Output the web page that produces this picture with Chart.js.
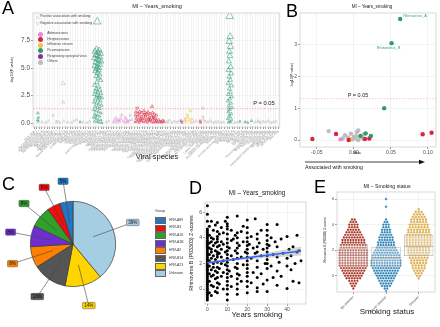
<!DOCTYPE html>
<html>
<head>
<meta charset="utf-8">
<script src="https://cdn.jsdelivr.net/npm/chart.js@4.4.1/dist/chart.umd.min.js"></script>
<style>
  body { margin: 0; background: #fff; font-family: "Liberation Sans", Arial, sans-serif; }
  #page { position: relative; width: 440px; height: 327px; overflow: hidden; background: #fff; }
  canvas { position: absolute; }
  .t { position: absolute; white-space: nowrap; line-height: 1; color: #1a1a1a; transform: translate(-50%, -50%); }
  .l { position: absolute; white-space: nowrap; line-height: 1; color: #1a1a1a; transform: translateY(-50%); }
  .v { position: absolute; white-space: nowrap; line-height: 1; color: #1a1a1a; transform: translate(-50%, -50%) rotate(-90deg); }
  .big { position: absolute; font-size: 18px; line-height: 1; color: #000; }
</style>
</head>
<body>
<div id="page">
  <canvas id="chartA" width="285" height="170" style="left:0;top:0"></canvas>
  <canvas id="chartB" width="155" height="165" style="left:285px;top:0"></canvas>
  <canvas id="chartC" width="150" height="157" style="left:0;top:170px"></canvas>
  <canvas id="chartD" width="125" height="137" style="left:185px;top:190px"></canvas>
  <canvas id="chartE" width="122" height="142" style="left:318px;top:185px"></canvas>

  <div class="big" style="left:2px;top:-1px">A</div>
  <div class="big" style="left:286px;top:2px">B</div>
  <div class="big" style="left:2px;top:175px">C</div>
  <div class="big" style="left:189px;top:179px">D</div>
  <div class="big" style="left:314px;top:178px">E</div>

  <!-- titres et axes -->
  <div class="t" style="left:157px;top:7px;font-size:5.5px">MI – Years_smoking</div>
  <div class="v" style="left:13px;top:70px;font-size:3.8px">-log10(P-value)</div>
  <div class="t" style="left:157px;top:157px;font-size:7.5px">Viral species</div>
  <div class="t" style="left:264px;top:104px;font-size:5.8px">P = 0.05</div>

  <div class="t" style="left:372px;top:7px;font-size:4.5px">MI – Years_smoking</div>
  <div class="v" style="left:293px;top:75px;font-size:3.5px">-log10(P-value)</div>
  <div class="t" style="left:358px;top:96px;font-size:5.5px">P = 0.05</div>
  <div class="t" style="left:357px;top:154px;font-size:3.5px">Beta</div>
  <svg style="position:absolute;left:300px;top:158px" width="130" height="8">
    <line x1="5" y1="4" x2="121" y2="4" stroke="#111" stroke-width="0.8"/>
    <polygon points="125,4 119,1.8 119,6.2" fill="#111"/>
  </svg>
  <div class="l" style="left:305px;top:168px;font-size:5.3px">Associated with smoking</div>

  <div class="t" style="left:257px;top:193px;font-size:6.3px">MI – Years_smoking</div>
  <div class="v" style="left:192px;top:253px;font-size:5.3px">Rhinovirus B (P03303) Z-scores</div>
  <div class="t" style="left:257px;top:315px;font-size:7.8px">Years smoking</div>

  <div class="t" style="left:387px;top:187px;font-size:5.2px">MI – Smoking status</div>
  <div class="v" style="left:326px;top:240px;font-size:3.2px">Rhinovirus B (P03303) Z-scores</div>
  <div class="t" style="left:387px;top:312px;font-size:8px">Smoking status</div>
</div>

<script>
// ---------- données panneau A ----------
const species = [
  'Aichi virus', 'Alphacoronavirus 1', 'Alphapapillomavirus 7', 'Alphapapillomavirus 9', 'Alphapapillomavirus 10',
  'Alphatorquevirus', 'Astrovirus MLB1', 'BK polyomavirus', 'Betacoronavirus 1', 'Betapapillomavirus 1',
  'Betapapillomavirus 2', 'Bovine viral diarrhea virus 1', 'Cardiovirus A', 'Chikungunya virus', 'Cosavirus A',
  'Dengue virus', 'Ebola virus', 'Enterovirus A', 'Enterovirus B', 'Enterovirus C',
  'Enterovirus D', 'Gammapapillomavirus 1', 'Hepatitis A virus', 'Hepatovirus A', 'Rhinovirus B',
  'Rhinovirus C', 'Hepatitis B virus', 'Hepatitis C virus', 'Hepatitis E virus', 'Human adenovirus A',
  'Human adenovirus B', 'Human adenovirus C', 'Human adenovirus D', 'Human adenovirus E', 'Human adenovirus F',
  'Human adenovirus G', 'Human astrovirus', 'Human bocavirus', 'Human herpesvirus 1', 'Human herpesvirus 2',
  'Human herpesvirus 3', 'Human herpesvirus 4', 'Human herpesvirus 5', 'Human herpesvirus 6A', 'Human herpesvirus 6B',
  'Human herpesvirus 7', 'Human herpesvirus 8', 'Cercopithecine herpesvirus 1', 'Macacine betaherpesvirus 3', 'Human coronavirus 229E',
  'Human coronavirus HKU1', 'Human coronavirus NL63', 'Human immunodeficiency virus 1', 'Human immunodeficiency virus 2', 'Human metapneumovirus',
  'Human orthopneumovirus', 'Human respiratory syncytial virus', 'Influenza A virus', 'Influenza B virus', 'Influenza C virus',
  'Human parainfluenza virus 1', 'Human parainfluenza virus 3', 'Human parechovirus', 'Human parvovirus B19', 'Human T-lymphotropic virus 1',
  'JC polyomavirus', 'KI polyomavirus', 'Lassa mammarenavirus', 'Measles virus', 'Merkel cell polyomavirus',
  'Molluscum contagiosum virus', 'Mumps virus', 'Norwalk virus', 'Orf virus', 'Primate erythroparvovirus 1',
  'Rhinovirus A', 'Enterovirus H', 'Rotavirus A', 'Rotavirus B', 'Rotavirus C',
  'Rubella virus', 'Salivirus A', 'Sapporo virus', 'Simian virus 40', 'Sindbis virus',
  'Tick-borne encephalitis virus', 'Torque teno midi virus', 'Torque teno virus', 'Vaccinia virus', 'Variola virus',
  'Venezuelan equine encephalitis virus', 'WU polyomavirus', 'West Nile virus', 'Yellow fever virus', 'Zaire ebolavirus',
  'Zika virus'
];
const families = ['Adenoviruses', 'Herpesviruses', 'Influenza viruses', 'Picornaviruses', 'Respiratory syncytial virus', 'Others'];
const familyColors = ['#e58bd3', '#d7263d', '#efc04a', '#2e9b6f', '#8e2c9a', '#bdbdbd'];
const shapeLabels = ['Positive association with smoking', 'Negative association with smoking'];
const aYTicks = [0, 2.5, 5, 7.5];
const pThreshold = 1.301;

// [espèce (position), -log10 p]
const aAdenoUp = [[30.8,0.1],[31.4,0.25],[32.0,0.05],[32.6,0.3],[33.2,0.15],[34.0,0.73],[34.6,0.2],[35.2,0.05],
  [35.8,0.35],[36.4,0.1],[37.0,0.25],[31.7,0.45],[33.6,0.4],[35.4,0.5]];
const aAdenoDown = [[32.9,0.2],[36.1,0.15]];
const aHerpesUp = [[45.8,1.5],[39.5,1.0],[40.3,0.9],[41.0,1.05],[41.8,0.95],[42.6,1.1],[43.4,0.9],[44.2,1.0],[45.0,0.85],
  [46.0,0.95],[46.8,0.8],[47.5,0.7],[39.3,0.7],[40.1,0.6],[40.9,0.75],[41.7,0.55],[42.5,0.7],[43.3,0.6],[44.1,0.75],
  [44.9,0.5],[45.7,0.65],[46.5,0.5],[47.3,0.4],[39.6,0.4],[40.4,0.3],[41.2,0.45],[42.0,0.35],[42.8,0.4],[43.6,0.3],
  [44.4,0.45],[45.2,0.3],[46.0,0.35],[46.8,0.25],[47.6,0.2],[48.4,0.3],[49.2,0.15],[50.0,0.25],[39.2,0.1],[40.0,0.15],
  [40.8,0.05],[41.6,0.2],[42.4,0.1],[43.2,0.15],[44.0,0.05],[44.8,0.2],[45.6,0.1],[46.4,0.05],[47.2,0.1],[48.0,0.05],
  [48.8,0.1],[49.6,0.05],[50.4,0.1],[64.5,0.2],[64.7,0.05]];
const aHerpesDown = [[40.0,1.35],[43.0,0.8],[46.3,0.55],[41.3,0.25],[44.6,0.3]];
const aFluUp = [[58.0,0.1],[58.6,0.3],[59.2,0.15],[59.8,0.5],[60.4,0.25],[61.0,0.05],[60.8,1.1],[59.5,0.75],[61.3,0.35]];
const aFluDown = [[58.9,0.4]];
const aRsvUp = [[57.2,0.2],[57.4,0.05]];
const aPicornaUp = [[24.5,9.2],[24.2,6.7],[25.3,6.6],[23.6,6.5],[24.8,6.4],[25.8,6.3],[23.9,6.2],[24.6,6.1],[25.5,6.0],
  [23.4,5.9],[24.3,5.8],[25.1,5.7],[26.0,5.6],[23.8,5.5],[24.7,5.4],[25.6,5.3],[23.5,5.2],[24.4,5.1],[25.2,5.0],[24.0,4.9],
  [25.0,4.8],[23.7,4.7],[24.6,4.55],[25.4,4.4],[24.1,4.25],[24.9,4.1],[25.8,3.9],[24.3,3.7],[23.5,3.45],[25.1,3.3],
  [24.0,3.1],[25.5,3.0],[23.8,2.9],[24.7,2.8],[25.9,2.7],[23.3,2.6],[24.4,2.5],[25.3,2.4],[26.2,2.3],[23.7,2.2],[24.8,2.1],
  [25.7,2.0],[23.2,1.9],[24.2,1.8],[25.1,1.7],[26.1,1.6],[23.6,1.5],[24.6,1.4],[25.5,1.3],[23.1,1.2],[24.1,1.1],[25.0,1.0],
  [26.0,0.9],[23.5,0.8],[24.5,0.7],[25.4,0.6],[23.0,0.5],[24.0,0.4],[24.9,0.3],[25.9,0.25],[23.4,0.15],[24.4,0.1],
  [25.3,0.05],[26.3,0.02],
  [76.0,9.7],[76.2,7.85],[75.8,7.4],[76.3,6.95],[75.9,6.5],[76.1,6.1],[75.7,5.6],[76.4,5.1],[75.5,4.8],[76.6,4.5],
  [75.8,4.2],[76.2,3.9],[75.4,3.6],[76.7,3.4],[75.9,3.1],[76.3,2.8],[75.5,2.6],[76.8,2.4],[76.0,2.2],[75.3,2.0],[76.5,1.8],
  [75.7,1.6],[76.9,1.4],[76.1,1.2],[75.4,1.0],[76.6,0.85],[75.8,0.7],[76.2,0.55],[75.2,0.4],[76.8,0.3],[75.9,0.2],
  [76.4,0.1],[75.6,0.05],
  [1.4,0.9],[1.6,0.5],[1.3,0.3],[1.5,0.15],[17.8,0.1],[80.0,0.15],[82.0,0.1],[84.5,0.2],[83.0,0.05]];
const aPicornaDown = [[24.9,2.35],[75.6,1.3],[23.9,0.6]];
const aOthersUp = [[3.0,0.1],[4.5,0.05],[5.5,0.2],[7.3,0.7],[8.5,0.1],[10.0,0.05],[11.2,3.6],[11.2,1.9],[11.5,0.2],
  [13.0,0.1],[14.5,0.05],[15.5,0.2],[16.5,0.3],[19.0,0.1],[20.5,0.05],[21.5,0.15],[28.0,0.1],[29.0,0.2],[37.3,0.7],
  [38.0,0.3],[50.5,0.2],[51.5,0.1],[52.5,0.25],[53.5,0.05],[54.5,0.15],[55.5,0.1],[56.5,0.2],[62.0,0.1],[63.0,0.2],
  [65.6,1.35],[65.8,0.3],[66.5,0.15],[67.5,0.1],[68.5,0.2],[69.5,0.05],[70.5,0.1],[71.5,0.15],[72.5,0.05],[73.5,0.1],
  [78.0,0.05],[79.0,0.1],[86.0,0.1],[87.0,0.2],[88.0,0.05],[89.0,0.15],[90.0,0.1],[91.0,0.2],[92.0,0.05],[93.0,0.1],[94.0,0.15]];
const aOthersDown = [[65.6,0.55],[9.0,0.15],[52.0,0.1],[87.5,0.1]];

// ---------- données panneau B ----------
const bXTicks = [-0.05, 0, 0.05, 0.1];
const bYTicks = [0, 1, 2, 3];
const bOthers = [[-0.034,0.28],[-0.012,0.15],[-0.008,0.08],[-0.004,0.2],[0.0,0.1],[0.002,0.05],[0.004,0.25],[0.006,0.3],
  [0.009,0.12],[0.012,0.05],[-0.002,0.02],[0.006,0.0],[0.014,0.18],[0.003,0.12],[-0.015,0.05]];
const bAdeno = [[-0.018,0.02]];
const bHerpes = [[-0.056,0.03],[-0.024,0.19],[-0.007,0.0],[0.015,0.03],[0.021,0.05],[0.093,0.18],[0.105,0.23]];
const bFlu = [[-0.005,0.02]];
const bPicorna = [[0.0626,3.81],[0.051,3.05],[0.041,1.0],[0.016,0.21],[0.023,0.13],[0.009,0.13]];
const bPicornaNames = ['Rhinovirus_A', 'Rhinovirus_B'];

// ---------- données panneau C ----------
const hrvGroups = ['HRV-A89', 'HRV-B3', 'HRV-A16', 'HRV-A1B', 'HRV-A2', 'HRV-B14', 'HRV-A23', 'Unknown'];
const groupShares = [5, 5, 8, 8, 8, 13, 14, 39];
const groupColors = ['#2377c4', '#f20d0d', '#2fa02a', '#6d2fd0', '#ff7f00', '#555555', '#ffd500', '#a6cee3'];

// ---------- données panneau D ----------
const dXTicks = [0, 10, 20, 30, 40];
const dYTicks = [0, 2, 4, 6];
const dYears = [0,1,2,3,4,5,6,7,8,9,10,11,12,13,14,15,16,17,18,19,20,21,22,23,24,25,26,27,28,29,30,31,32,33,34,35,36,37,38,40,41,42,43,44,45,46,47];
const dScores = [
  [6.5,5.85,5.3,4.7,4.55,4.4,4.25,4.1,3.95,3.8,3.65,3.5,3.35,3.2,3.05,2.9,2.75,2.6,2.45,2.3,2.15,2.0,1.85,1.7,1.55,1.4,1.25,1.1,0.95,0.8,0.65,0.5,0.35,0.2,0.05,-0.1,-0.25,-0.4,-0.55,-0.7,-0.85],
  [4.9,3.6,2.7,1.8,0.6,3.2,2.2,-0.3,4.2,1.2],
  [5.3,4.0,3.1,2.4,1.5,0.3,2.9,3.7,1.0,-0.5],
  [4.6,3.4,2.0,1.1,0.2,2.6,3.9,1.7],
  [5.0,3.0,2.3,0.8,1.4,3.6,-0.2],
  [5.2,4.5,4.1,3.7,3.3,2.9,2.5,2.1,1.7,1.3,0.9,0.5,0.1,-0.3,3.9,2.7],
  [4.3,2.8,1.6,0.4,3.4],
  [4.8,3.1,2.0,1.0,3.7,2.5],
  [3.5,2.2,1.3,4.4,0.0],
  [5.3,2.9,1.9],
  [5.6,5.1,4.7,4.3,3.9,3.6,3.3,3.0,2.7,2.4,2.1,1.8,1.5,1.2,0.9,0.6,0.3,0.0,-0.4,-0.85,4.9],
  [3.2,1.4],
  [4.6,2.6,1.0,3.8,0.2],
  [3.9,2.3],
  [4.2,1.7,3.0],
  [5.7,4.4,4.0,3.6,3.2,2.8,2.4,2.0,1.6,1.2,0.8,0.4,0.0,-0.4],
  [3.4,1.1],
  [4.5,2.5,0.6],
  [3.7,1.9,4.9],
  [2.9],
  [5.4,4.8,4.4,4.0,3.7,3.4,3.1,2.8,2.5,2.2,1.9,1.6,1.3,1.0,0.6,0.2,-0.3],
  [3.5],
  [4.1,2.4,0.5],
  [3.2,1.3],
  [5.5,2.8],
  [4.3,3.9,3.3,2.9,2.2,1.7,0.9,0.1,-0.2],
  [3.6],
  [4.6,2.6,1.2],
  [3.1,0.4],
  [2.0],
  [5.05,4.6,4.2,3.8,3.5,3.2,2.9,2.6,2.3,2.0,1.6,0.7,-0.2],
  [3.4],
  [4.0,1.8],
  [2.7,0.9],
  [3.7],
  [5.05,3.3,2.5,1.4,0.3],
  [2.1],
  [3.9,1.0],
  [2.8],
  [4.1,2.4,0.05,1.8],
  [3.1],
  [1.5,2.6],
  [3.3,0.6],
  [2.0],
  [4.2,2.9],
  [3.0,0.5],
  [2.2]
];
const fitYears = [0, 47];
const fitLine = [2.05, 2.97];
const bandYears = [0, 10, 20, 30, 40, 47];
const bandLow = [1.93, 2.17, 2.33, 2.45, 2.55, 2.62];
const bandHigh = [2.17, 2.33, 2.55, 2.83, 3.11, 3.32];

// ---------- données panneau E ----------
const eGroups = ['Ex-smoker', 'Never smoker', 'Smoker'];
const eColors = ['#c0321d', '#2b8fcc', '#efb83c'];
const eEdges = ['#7d1c0e', '#17628f', '#b8862a'];
const eYTicks = [0, 2, 4, 6];
const eBins = [-1.2,-1.0,-0.8,-0.6,-0.4,-0.2,0,0.2,0.4,0.6,0.8,1.0,1.2,1.4,1.6,1.8,2.0,2.2,2.4,2.6,2.8,3.0,3.2,3.4,3.6,3.8,4.0,4.2,4.4,4.6,4.8,5.0,5.2,5.4,5.6,5.8,6.0,6.2];
const exCounts     = [0,1,2,3,4,6,7,8,9,10,11,11,11,11,11,11,11,10,10,9,9,8,7,6,5,4,4,3,2,0,0,0,0,0,0,0,0,0];
const neverCounts  = [1,2,4,5,6,7,8,9,10,11,12,12,12,11,11,10,9,8,7,7,6,6,5,4,4,3,3,2,1,0,0,0,0,1,0,0,1,0];
const smokerCounts = [0,0,0,0,0,1,2,3,4,5,5,6,6,7,7,8,8,8,9,9,9,9,9,8,8,7,7,6,6,5,4,3,1,0,0,0,0,0];
const eQ1 = [0.75, 0.75, 1.55];
const eMedian = [1.6, 1.43, 2.3];
const eQ3 = [2.45, 2.27, 3.2];

// ---------- réglages communs ----------
Chart.defaults.font.family = '"Liberation Sans", Arial, sans-serif';
Chart.defaults.responsive = false;
Chart.defaults.animation = false;
Chart.defaults.plugins.legend.display = false;
Chart.defaults.plugins.tooltip.enabled = false;

// cadre gris autour de la zone de tracé (panel.border)
const frame = {
  id: 'frame',
  afterDraw(chart) {
    const { ctx, chartArea: a } = chart;
    ctx.save();
    ctx.strokeStyle = '#c8c8c8';
    ctx.lineWidth = 0.7;
    ctx.strokeRect(a.left, a.top, a.right - a.left, a.bottom - a.top);
    ctx.restore();
  }
};
Chart.register(frame);

function axis(min, max, ticks, size, fontSize, labelFn, extraTicks) {
  return {
    type: 'linear', min, max, offset: false,
    afterBuildTicks: s => { s.ticks = ticks.map(v => ({ value: v })); },
    afterFit: s => {
      if (s.isHorizontal()) s.height = size; else s.width = size;
      s.paddingLeft = s.paddingRight = s.paddingTop = s.paddingBottom = 0;
    },
    grid: { color: '#ebebeb', lineWidth: 0.6, tickLength: 2, tickColor: '#555', tickWidth: 0.6, offset: false },
    border: { display: false },
    ticks: Object.assign({ font: { size: fontSize }, color: '#4d4d4d', padding: 1, callback: labelFn || (v => v) }, extraTicks || {})
  };
}

const xy = p => ({ x: p[0], y: p[1] });

// ---------- A ----------
function tri(points, fi, down) {
  return {
    data: points.map(xy),
    pointStyle: 'triangle',
    rotation: down ? 180 : 0,
    pointRadius: c => 1.3 + c.raw.y * 0.33,
    borderColor: familyColors[fi] + 'c8',
    backgroundColor: 'rgba(0,0,0,0)',
    borderWidth: 0.7
  };
}

new Chart(document.getElementById('chartA'), {
  type: 'scatter',
  data: {
    datasets: [
      { type: 'line', data: [{ x: -0.5, y: pThreshold }, { x: species.length - 0.5, y: pThreshold }],
        borderColor: 'rgba(232,120,135,0.85)', borderWidth: 0.7, borderDash: [1.5, 1.5], pointRadius: 0 },
      tri(aPicornaUp, 3, false), tri(aPicornaDown, 3, true),
      tri(aHerpesUp, 1, false), tri(aHerpesDown, 1, true),
      tri(aAdenoUp, 0, false), tri(aAdenoDown, 0, true),
      tri(aFluUp, 2, false), tri(aFluDown, 2, true),
      tri(aRsvUp, 4, false),
      tri(aOthersUp, 5, false), tri(aOthersDown, 5, true)
    ]
  },
  options: {
    layout: { padding: { left: 0, top: 13, right: 5, bottom: 0 } },
    scales: {
      x: axis(-0.5, species.length - 0.5, species.map((_, i) => i), 43, 3, v => species[v],
        { autoSkip: false, minRotation: 45, maxRotation: 45, color: '#8a8a8a', padding: 0.5 }),
      y: axis(-0.36, 10, aYTicks, 33, 6.5, v => v.toFixed(1))
    }
  }
});

// légende A
const page = document.getElementById('page');
function addText(cls, x, y, size, text, color) {
  const d = document.createElement('div');
  d.className = cls;
  d.style.left = x + 'px';
  d.style.top = y + 'px';
  d.style.fontSize = size + 'px';
  if (color) d.style.color = color;
  d.textContent = text;
  page.appendChild(d);
  return d;
}
function addBox(x, y, w, h, color, css) {
  const d = document.createElement('div');
  d.style.cssText = `position:absolute;left:${x}px;top:${y}px;width:${w}px;height:${h}px;background:${color};` + (css || '');
  page.appendChild(d);
}
shapeLabels.forEach((s, i) => {
  addText('t', 37.3, 17.3 + i * 6.7, 4.4, i ? '▽' : '△', '#9a9a9a');
  addText('l', 40.2, 17.3 + i * 6.7, 3.4, s, '#444');
});
families.forEach((f, i) => {
  const y = 34 + i * 5.65;
  addBox(38.2, y - 2.5, 5, 5, familyColors[i], 'border-radius:50%;');
  addText('l', 47.3, y, 3.4, f, '#444');
});

// ---------- B ----------
const pointNames = {
  id: 'pointNames',
  afterDatasetsDraw(chart) {
    const ctx = chart.ctx;
    const place = [['left', 3, -3], ['center', -3, 5]];
    chart.data.datasets.forEach((ds, di) => {
      if (!ds.names) return;
      const pts = chart.getDatasetMeta(di).data;
      ds.names.forEach((name, i) => {
        const p = pts[i];
        ctx.save();
        ctx.font = '4px "Liberation Sans", Arial, sans-serif';
        ctx.fillStyle = '#3a9e77';
        ctx.textAlign = place[i][0];
        ctx.textBaseline = 'middle';
        ctx.fillText(name, p.x + place[i][1], p.y + place[i][2]);
        ctx.restore();
      });
    });
  }
};

function dots(points, fi, order) {
  return { data: points.map(xy), pointRadius: 2.2, backgroundColor: familyColors[fi], borderWidth: 0, order };
}

new Chart(document.getElementById('chartB'), {
  type: 'scatter',
  data: {
    datasets: [
      Object.assign(dots(bPicorna, 3, 0), { names: bPicornaNames }),
      dots(bHerpes, 1, 0), dots(bAdeno, 0, 0), dots(bFlu, 2, 0),
      dots(bOthers, 5, 1),
      { type: 'line', data: [{ x: -0.0727, y: pThreshold }, { x: 0.111, y: pThreshold }], order: 2,
        borderColor: 'rgba(232,120,135,0.7)', borderWidth: 0.6, borderDash: [1.5, 1.5], pointRadius: 0 }
    ]
  },
  options: {
    layout: { padding: { left: 0, top: 13, right: 2, bottom: 0 } },
    scales: {
      x: axis(-0.0727, 0.111, bXTicks, 18, 5, v => v.toFixed(2)),
      y: axis(-0.22, 4.0, bYTicks, 15, 5)
    }
  },
  plugins: [pointNames]
});

// ---------- C ----------
const pieLabels = {
  id: 'pieLabels',
  afterDatasetsDraw(chart) {
    const ctx = chart.ctx;
    const ds = chart.data.datasets[0];
    chart.getDatasetMeta(0).data.forEach((arc, i) => {
      const a = (arc.startAngle + arc.endAngle) / 2;
      const r = arc.outerRadius;
      const x0 = arc.x + Math.cos(a) * r * 0.5, y0 = arc.y + Math.sin(a) * r * 0.5;
      const x1 = arc.x + Math.cos(a) * r * 1.49, y1 = arc.y + Math.sin(a) * r * 1.49;
      ctx.save();
      ctx.strokeStyle = '#444';
      ctx.lineWidth = 0.6;
      ctx.beginPath(); ctx.moveTo(x0, y0); ctx.lineTo(x1, y1); ctx.stroke();
      const txt = ds.data[i] + '%';
      ctx.font = '4.6px "Liberation Sans", Arial, sans-serif';
      const w = ctx.measureText(txt).width + 3.5, h = 6.4;
      ctx.beginPath();
      ctx.roundRect(x1 - w / 2, y1 - h / 2, w, h, 1);
      ctx.fillStyle = ds.backgroundColor[i];
      ctx.fill();
      ctx.strokeStyle = '#333';
      ctx.lineWidth = 0.4;
      ctx.stroke();
      ctx.fillStyle = '#111';
      ctx.textAlign = 'center';
      ctx.textBaseline = 'middle';
      ctx.fillText(txt, x1, y1 + 0.3);
      ctx.restore();
    });
  }
};

new Chart(document.getElementById('chartC'), {
  type: 'pie',
  data: {
    labels: hrvGroups.slice().reverse(),
    datasets: [{
      data: groupShares.slice().reverse(),
      backgroundColor: groupColors.slice().reverse(),
      borderColor: '#3b3b3b',
      borderWidth: 0.7
    }]
  },
  options: {
    layout: { padding: { left: 30, right: 34, top: 31, bottom: 40 } },
    plugins: { frame: false }
  },
  plugins: [pieLabels]
});

// légende C
addText('l', 155, 212, 3.6, 'Group', '#333');
hrvGroups.forEach((g, i) => {
  const y = 217 + i * 7.6;
  addBox(155, y, 11, 7, groupColors[i], 'box-sizing:border-box;border:0.5px solid #666;');
  addText('l', 169, y + 3.6, 3.4, g, '#333');
});

// ---------- D ----------
const dPoints = [];
dYears.forEach((yr, i) => dScores[i].forEach(s => dPoints.push({ x: yr, y: s })));

new Chart(document.getElementById('chartD'), {
  type: 'scatter',
  data: {
    datasets: [
      { type: 'line', data: fitYears.map((x, i) => ({ x, y: fitLine[i] })),
        borderColor: '#3366ff', borderWidth: 1.4, pointRadius: 0 },
      { type: 'line', data: bandYears.map((x, i) => ({ x, y: bandHigh[i] })), fill: '+1',
        backgroundColor: 'rgba(150,150,150,0.4)', borderWidth: 0, pointRadius: 0 },
      { type: 'line', data: bandYears.map((x, i) => ({ x, y: bandLow[i] })),
        borderWidth: 0, pointRadius: 0 },
      { data: dPoints, pointRadius: 1.5, backgroundColor: '#000', borderWidth: 0 }
    ]
  },
  options: {
    layout: { padding: { left: 0, top: 12, right: 2, bottom: 0 } },
    scales: {
      x: axis(-1.2, 49.5, dXTicks, 23, 5),
      y: axis(-1.17, 6.8, dYTicks, 20, 5)
    }
  }
});

// ---------- E ----------
function swarm(counts, gi, step) {
  const pts = [];
  counts.forEach((n, b) => {
    for (let j = 0; j < n; j++) pts.push({ x: gi + (j - (n - 1) / 2) * step, y: eBins[b] });
  });
  return { data: pts, pointRadius: 0.95, backgroundColor: eColors[gi], borderColor: eEdges[gi], borderWidth: 0.3, order: 3 };
}

new Chart(document.getElementById('chartE'), {
  type: 'scatter',
  data: {
    datasets: [
      { type: 'bar', data: eGroups.map((g, i) => ({ x: i, y: [eMedian[i] - 0.03, eMedian[i] + 0.03] })),
        backgroundColor: 'rgba(150,150,150,0.85)', borderWidth: 0, grouped: false,
        barPercentage: 0.9, categoryPercentage: 1, order: 0 },
      { type: 'bar', data: eGroups.map((g, i) => ({ x: i, y: [eQ1[i], eQ3[i]] })),
        backgroundColor: 'rgba(240,240,240,0.35)', borderColor: 'rgba(165,165,165,0.85)', borderWidth: 0.7,
        borderSkipped: false, grouped: false, barPercentage: 0.9, categoryPercentage: 1, order: 1 },
      swarm(exCounts, 0, 0.083),
      swarm(neverCounts, 1, 0.08),
      swarm(smokerCounts, 2, 0.09)
    ]
  },
  options: {
    layout: { padding: { left: 0, top: 7, right: 5, bottom: 0 } },
    scales: {
      x: axis(-0.5, 2.5, [0, 1, 2], 35, 3.6, v => eGroups[v],
        { autoSkip: false, minRotation: 45, maxRotation: 45 }),
      y: axis(-1.27, 6.55, eYTicks, 19, 4)
    }
  }
});
</script>
</body>
</html>
